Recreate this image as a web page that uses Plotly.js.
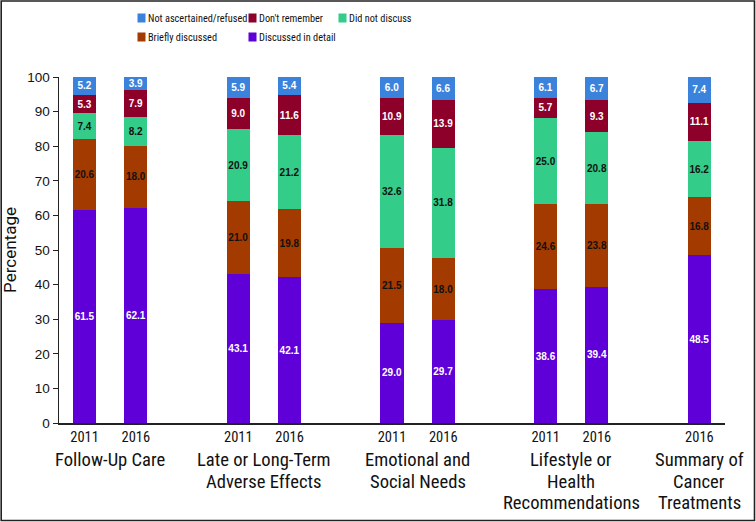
<!DOCTYPE html>
<html>
<head>
<meta charset="utf-8">
<script src="https://cdn.plot.ly/plotly-3.0.1.min.js"></script>
<style>
html,body{margin:0;padding:0;background:#fff}
#chart{width:756px;height:522px}
</style>
</head>
<body>
<div id="chart"></div>
<script>
// ---- data ----
var years = ["2011","2016","2011","2016","2011","2016","2011","2016","2016"];
var barPos = [0,1,3,4,6,7,9,10,12];
var groupLabels = ["Follow-Up Care", "Late or Long-Term<br>Adverse Effects", "Emotional and<br>Social Needs", "Lifestyle or<br>Health<br>Recommendations", "Summary of<br>Cancer<br>Treatments"];
var groupCenters = [0.5, 3.5, 6.5, 9.5, 12];

var discussedDetail = [61.5, 62.1, 43.1, 42.1, 29.0, 29.7, 38.6, 39.4, 48.5];
var brieflyDiscussed = [20.6, 18.0, 21.0, 19.8, 21.5, 18.0, 24.6, 23.8, 16.8];
var didNotDiscuss   = [7.4, 8.2, 20.9, 21.2, 32.6, 31.8, 25.0, 20.8, 16.2];
var dontRemember    = [5.3, 7.9, 9.0, 11.6, 10.9, 13.9, 5.7, 9.3, 11.1];
var notAscertained  = [5.2, 3.9, 5.9, 5.4, 6.0, 6.6, 6.1, 6.7, 7.4];

var seriesNames = ["Discussed in detail","Briefly discussed","Did not discuss","Don't remember","Not ascertained/refused"];
var seriesColors = ["#5f00d8","#a33b00","#33cc88","#8c0029","#3a82dc"];
var textColors = ["#ffffff","#111111","#111111","#ffffff","#ffffff"];
var seriesValues = [discussedDetail, brieflyDiscussed, didNotDiscuss, dontRemember, notAscertained];
var legendIds = ["legend5","legend4","legend3","legend2","legend"];

var cond = "Roboto Condensed, Liberation Sans Narrow, Arial Narrow, sans-serif";
var reg = "Liberation Sans, Arial, sans-serif";

var traces = seriesValues.map(function(vals, i){
  return {
    type: "bar",
    x: barPos,
    y: vals,
    name: seriesNames[i],
    legend: legendIds[i],
    width: 0.45,
    marker: {color: seriesColors[i], line: {width: 0}},
    text: vals.map(function(v){return v.toFixed(1);}),
    textposition: "inside",
    insidetextanchor: "middle",
    textangle: 0,
    constraintext: "none",
    textfont: {family: reg, size: 10, weight: "bold", color: textColors[i]},
    hoverinfo: "name+y"
  };
});

var W = 756, H = 522, L = 59, R = 31, T = 77, B = 99;
var pw = W - L - R, ph = H - T - B;

var annotations = [];
groupLabels.forEach(function(lbl, g){
  lbl.split("<br>").forEach(function(line, k){
    var py = 460 + k * 21.5;
    annotations.push({
      x: groupCenters[g], xref: "x",
      y: (T + ph - py) / ph, yref: "paper",
      yanchor: "middle", xanchor: "center",
      text: line, showarrow: false,
      font: {family: cond, size: 18.6, color: "#111"}
    });
  });
});

function legendAt(px, py){
  return {
    orientation: "h", xref: "container", yref: "container",
    x: px / W, y: 1 - py / H, xanchor: "left", yanchor: "middle",
    font: {family: cond, size: 10.3, color: "#111"},
    bgcolor: "rgba(0,0,0,0)", borderwidth: 0, itemwidth: 30
  };
}

var layout = {
  width: W, height: H,
  margin: {l: L, r: R, t: T, b: B, pad: 0},
  paper_bgcolor: "#fff", plot_bgcolor: "#fff",
  barmode: "stack",
  font: {family: cond, color: "#111"},
  showlegend: true,
  legend:  legendAt(108, 18),
  legend2: legendAt(219, 18),
  legend3: legendAt(309, 18),
  legend4: legendAt(108, 37),
  legend5: legendAt(219, 37),
  xaxis: {
    range: [-0.5, 12.5], tickvals: barPos, ticktext: years,
    showline: true, linecolor: "#222", linewidth: 1.5,
    ticks: "", showgrid: false, zeroline: false,
    tickfont: {family: cond, size: 14.5, color: "#111"}
  },
  yaxis: {
    range: [0, 100], tick0: 0, dtick: 10,
    showline: true, linecolor: "#222", linewidth: 1.5,
    ticks: "outside", ticklen: 5, tickcolor: "#222",
    showgrid: false, zeroline: false,
    tickfont: {family: reg, size: 13.5, color: "#111"},
    title: {text: "Percentage", font: {family: "Roboto, Liberation Sans, Arial, sans-serif", size: 17, color: "#111"}, standoff: 8}
  },
  annotations: annotations,
  shapes: [{
    type: "rect", xref: "paper", yref: "paper",
    x0: (1.2 - L) / pw, x1: (W - 1.5 - L) / pw,
    y0: (T + ph - (H - 1.5)) / ph, y1: (T + ph - 1) / ph,
    line: {color: "#222", width: 1.6}, fillcolor: "rgba(0,0,0,0)", layer: "below"
  }]
};

// smaller legend swatch, placed close to its text (as in the reference)
function tightenLegend(gd){
  gd.querySelectorAll(".legendpoints path").forEach(function(p){ p.setAttribute("d", "M17.5,4.5H9.5V-4.5H17.5Z"); });
}

var gdEl = document.getElementById("chart");
Plotly.newPlot(gdEl, traces, layout, {displayModeBar: false, staticPlot: true}).then(function(gd){
  tightenLegend(gd);
  gd.on("plotly_afterplot", function(){ tightenLegend(gd); });
  setTimeout(function(){ tightenLegend(gd); }, 30);
});
</script>
</body>
</html>
